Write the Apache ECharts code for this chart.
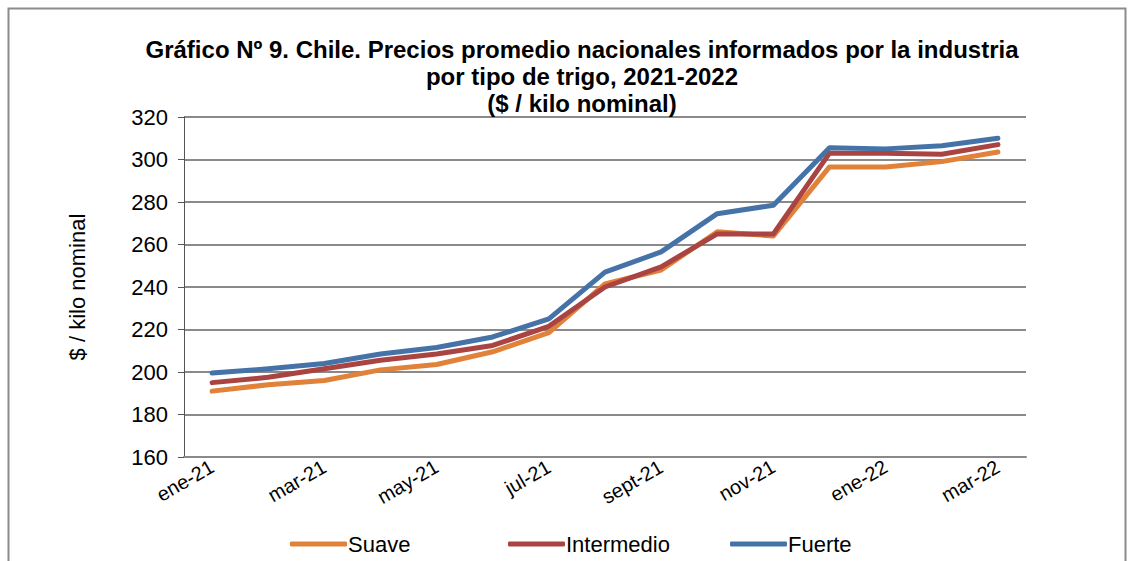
<!DOCTYPE html>
<html>
<head>
<meta charset="utf-8">
<script src="https://cdn.jsdelivr.net/npm/echarts@6/dist/echarts.min.js"></script>
<style>
  html, body { margin: 0; padding: 0; background: #fff; }
  #chart { width: 1134px; height: 561px; }
</style>
</head>
<body>
<div id="chart"></div>
<script>
// meses
const months = ["ene-21", "feb-21", "mar-21", "abr-21", "may-21", "jun-21", "jul-21", "ago-21",
  "sept-21", "oct-21", "nov-21", "dic-21", "ene-22", "feb-22", "mar-22"];

// $ / kilo nominal
const suave = [191, 194, 196, 201, 203.5, 209.5, 218.5, 241.5, 248, 266, 264, 296.5, 296.5, 299, 303.5];
const intermedio = [195, 197.5, 201.5, 205.5, 208.5, 212.5, 221.5, 240, 249.5, 265, 265, 303, 303, 302.5, 307];
const fuerte = [199.5, 201.5, 204, 208.5, 211.5, 216.5, 225, 247, 256.5, 274.5, 278.5, 305.5, 305, 306.5, 310];

const yTicks = [160, 180, 200, 220, 240, 260, 280, 300, 320];

const chart = echarts.init(document.getElementById("chart"), null, { renderer: "svg" });

const font = "'Liberation Sans', Arial, sans-serif";
const gridGray = "#8a8a8a";

function legendAt(name, left) {
  return {
    data: [name],
    left: left,
    top: 528,
    itemWidth: 57,
    itemHeight: 5,
    icon: "roundRect",
    itemGap: 0,
    textStyle: { fontFamily: font, fontSize: 22, color: "#000", padding: [0, 0, 0, -4] },
  };
}

const option = {
  backgroundColor: "#fff",
  animation: false,
  title: {
    text: "Gráfico Nº 9. Chile. Precios promedio nacionales informados por la industria\npor tipo de trigo, 2021-2022\n($ / kilo nominal)",
    left: 577,
    textAlign: "center",
    top: 31,
    textStyle: { fontFamily: font, fontSize: 24, fontWeight: "bold", color: "#000", lineHeight: 27 },
  },
  graphic: [
    {
      type: "rect",
      shape: { x: 8.5, y: 8.5, width: 1117, height: 600 },
      style: { fill: "none", stroke: "#8c8c8c", lineWidth: 2 },
      silent: true,
    },
  ],
  legend: [
    legendAt("Suave", 285),
    legendAt("Intermedio", 503),
    legendAt("Fuerte", 725),
  ],
  grid: { left: 184, right: 108, top: 117, bottom: 104 },
  xAxis: {
    type: "category",
    data: months,
    boundaryGap: true,
    axisLine: { lineStyle: { color: gridGray, width: 2 } },
    axisTick: { interval: 1, length: 6, lineStyle: { color: "#555", width: 1 } },
    axisLabel: {
      interval: 1,
      rotate: 30,
      margin: 8,
      fontFamily: font,
      fontSize: 20,
      color: "#000",
    },
  },
  yAxis: {
    type: "value",
    min: yTicks[0],
    max: yTicks[yTicks.length - 1],
    interval: 20,
    name: "$ / kilo nominal",
    nameLocation: "middle",
    nameGap: 96,
    nameTextStyle: { fontFamily: font, fontSize: 22, color: "#000" },
    axisLine: { show: true, lineStyle: { color: "#555", width: 1 } },
    axisTick: { show: true, length: 6, lineStyle: { color: "#555" } },
    axisLabel: { fontFamily: font, fontSize: 22, color: "#000", margin: 16 },
    splitLine: { lineStyle: { color: gridGray, width: 2 } },
  },
  series: [
    { name: "Suave", type: "line", data: suave, color: "#E0823A" },
    { name: "Intermedio", type: "line", data: intermedio, color: "#A94442" },
    { name: "Fuerte", type: "line", data: fuerte, color: "#4572A7" },
  ].map((s) => ({
    ...s,
    showSymbol: false,
    symbol: "none",
    lineStyle: { width: 5, cap: "round", join: "round" },
  })),
};

chart.setOption(option);
</script>
</body>
</html>
